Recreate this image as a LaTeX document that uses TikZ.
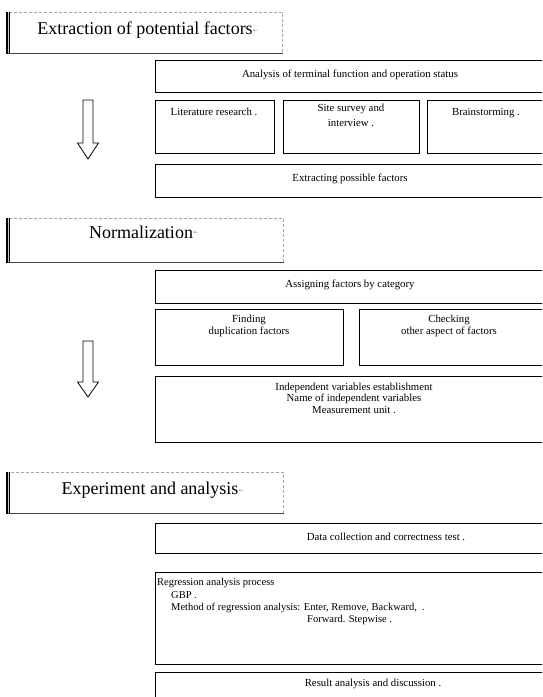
\documentclass[tikz,border=0pt]{standalone}
\usepackage{fontspec}
\setmainfont{Liberation Serif}
\newfontfamily\symfont{DejaVu Sans}
\begin{document}
\begin{tikzpicture}[x=1pt,y=-1pt,
  box/.style={draw, line width=0.8pt, anchor=north west, inner sep=0pt},
  txt/.style={font=\fontsize{10.8}{12}\selectfont, inner sep=0pt, anchor=mid},
  mtxt/.style={font=\fontsize{10.8}{12}\selectfont, inner sep=0pt, align=center, anchor=north},
  ltxt/.style={font=\fontsize{10.5}{12}\selectfont, inner sep=0pt, anchor=mid west},
  head/.style={draw=gray!70, densely dashed, line width=0.6pt, anchor=north west, inner sep=0pt},
  htxt/.style={font=\fontsize{18}{21}\selectfont, inner sep=0pt, anchor=mid},
  hedge/.style={line width=1.1pt, double=gray!40, double distance=0.9pt},
  hbottom/.style={line width=1.1pt, gray!50!black},
  pmark/.style={font=\symfont\fontsize{6}{6}\selectfont, text=gray, inner sep=0pt, anchor=mid west},
  downarrow/.style={draw, line width=0.8pt, fill=white, line join=miter}]
\useasboundingbox (0,0) rectangle (542,697);
\clip (0,0) rectangle (542,697);

% ---------- Section 1 ----------
\node[head, minimum width=274pt, minimum height=41pt] (h1) at (8,12) {};
\draw[hedge] (h1.north west) -- (h1.south west);
\draw[hbottom] (h1.south west) -- (h1.south east);
\node[htxt] (h1t) at (145,32) {Extraction of potential factors};
\node[pmark] at (h1t.east) {←};

\node[box, minimum width=390pt, minimum height=32pt] (a1) at (155,60) {};
\node[txt] (a1t) at (350,75) {Analysis of terminal function and operation status};

\node[box, minimum width=119pt, minimum height=53pt] (lit) at (155,100) {};
\node[txt] (litt) at (214,113) {Literature research .};
\node[box, minimum width=136pt, minimum height=53pt] (site) at (283,100) {};
\node[mtxt, font=\fontsize{10.8}{14.5}\selectfont] (sitet) at (351,104) {Site survey and\\interview .};
\node[box, minimum width=118pt, minimum height=53pt] (brain) at (427,100) {};
\node[txt] (braint) at (486,113) {Brainstorming .};

\node[box, minimum width=390pt, minimum height=33pt] (ext) at (155,164) {};
\node[txt] (extt) at (350,179) {Extracting possible factors};

\draw[downarrow] (83,100) -- (93,100) -- (93,143) -- (98.5,143) -- (88,159) -- (77.5,143) -- (83,143) -- cycle;

% ---------- Section 2 ----------
\node[head, minimum width=275pt, minimum height=44pt] (h2) at (8,218) {};
\draw[hedge] (h2.north west) -- (h2.south west);
\draw[hbottom] (h2.south west) -- (h2.south east);
\node[htxt] (h2t) at (141,236) {Normalization};
\node[pmark] at (h2t.east) {←};

\node[box, minimum width=390pt, minimum height=33pt] (asg) at (155,270) {};
\node[txt] (asgt) at (350,285) {Assigning factors by category};

\node[box, minimum width=188pt, minimum height=56pt] (find) at (155,309) {};
\node[mtxt] (findt) at (249,315) {Finding\\duplication factors};
\node[box, minimum width=190pt, minimum height=56pt] (chk) at (359,309) {};
\node[mtxt] (chkt) at (449,315) {Checking\\other aspect of factors};

\node[box, minimum width=390pt, minimum height=66pt] (ind) at (155,376) {};
\node[mtxt, font=\fontsize{10.8}{11.2}\selectfont] (indt) at (354,383) {Independent variables establishment\\Name of independent variables\\Measurement unit .};

\draw[downarrow] (83,341) -- (93,341) -- (93,382) -- (98.5,382) -- (88,397) -- (77.5,382) -- (83,382) -- cycle;

% ---------- Section 3 ----------
\node[head, minimum width=275pt, minimum height=41pt] (h3) at (8,472) {};
\draw[hedge] (h3.north west) -- (h3.south west);
\draw[hbottom] (h3.south west) -- (h3.south east);
\node[htxt] (h3t) at (150,492) {Experiment and analysis};
\node[pmark] at (h3t.east) {←};

\node[box, minimum width=390pt, minimum height=30pt] (dat) at (155,523) {};
\node[txt] (datt) at (386,538) {Data collection and correctness test .};

\node[box, minimum width=390pt, minimum height=92pt] (reg) at (155,572) {};
\node[ltxt] (reg1) at (157,583) {Regression analysis process};
\node[ltxt] (reg2) at (171,596) {GBP .};
\node[ltxt] (reg3) at (171,608) {Method of regression analysis: Enter, Remove, Backward,\ \ .};
\node[ltxt] (reg4) at (307,620) {Forward. Stepwise .};

\node[box, minimum width=390pt, minimum height=40pt] (res) at (155,672) {};
\node[txt] (rest) at (373,684) {Result analysis and discussion .};
\end{tikzpicture}
\end{document}
